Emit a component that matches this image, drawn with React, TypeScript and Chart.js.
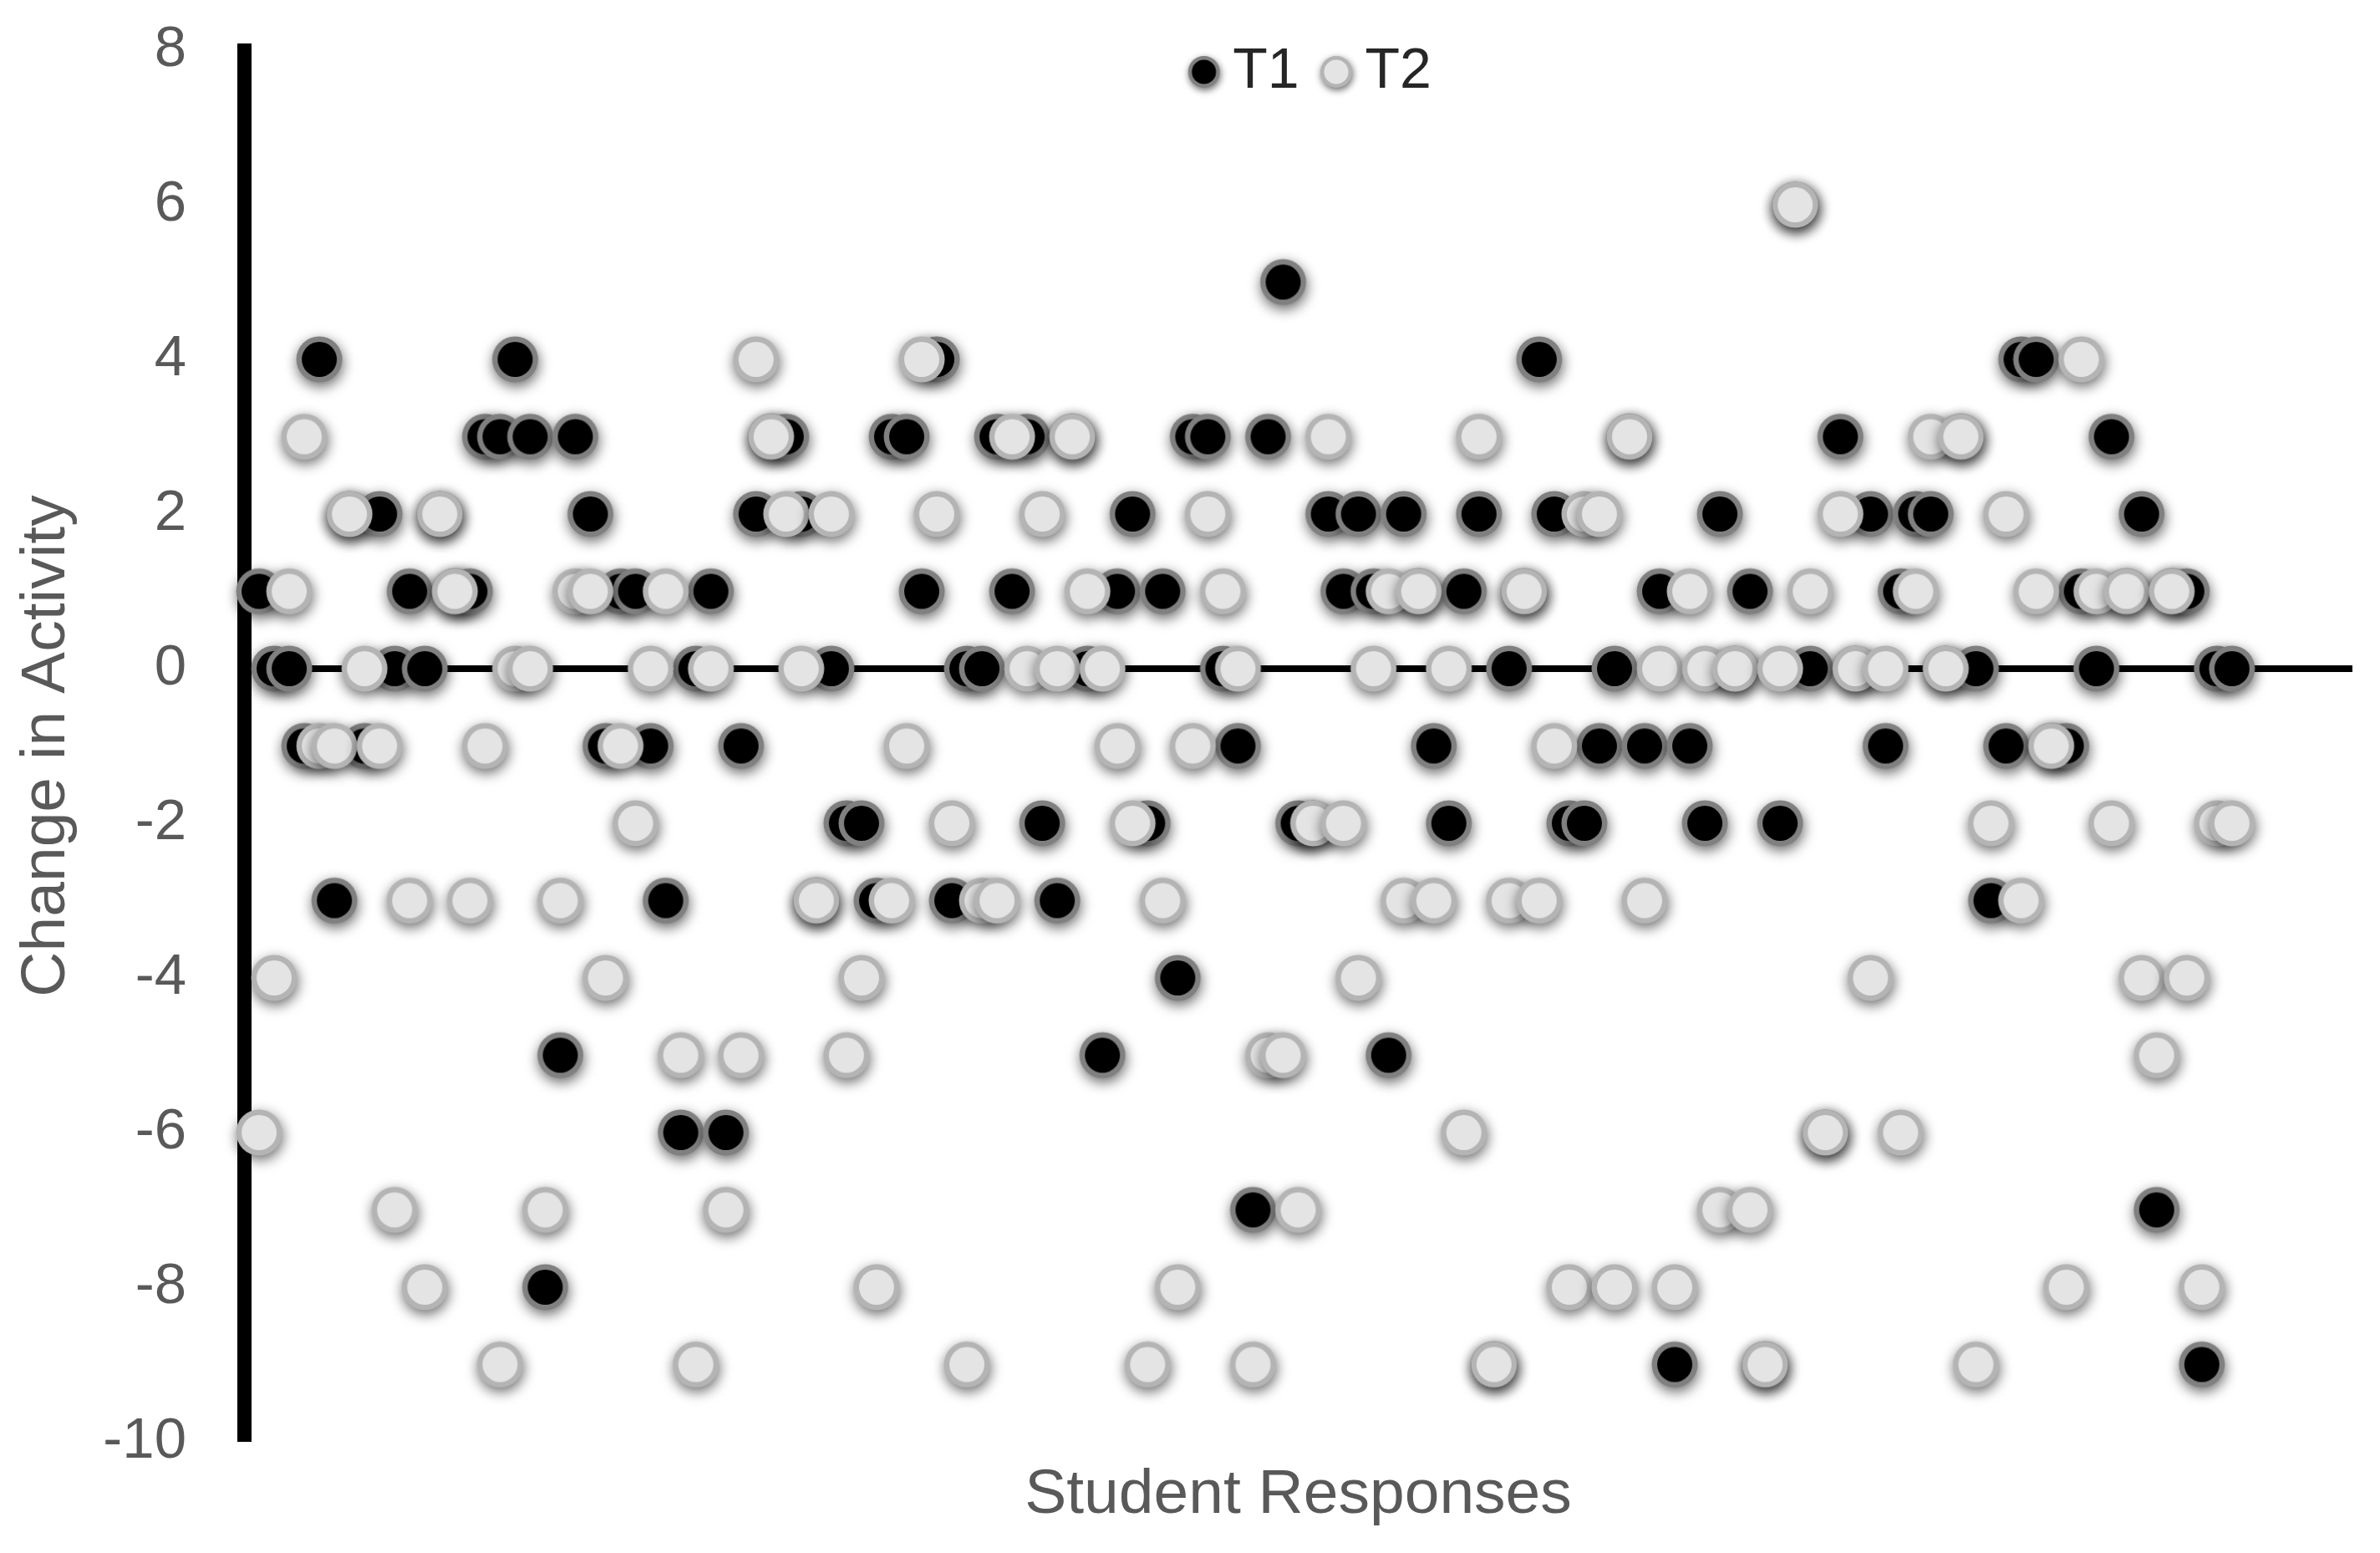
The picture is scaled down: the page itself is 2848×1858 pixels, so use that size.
import React, { useEffect, useRef } from 'react';
import { Chart, registerables } from 'chart.js';

Chart.register(...registerables);

// Change in activity per student response (students 1..132)
const T1: number[] = [
  1, 0, 0, -1, 4, -3, 2, -1, 2, 0,
  1, 0, 2, 1, 1, 3, 3, 4, 3, -8,
  -5, 3, 2, -1, 1, 1, -1, -3, -6, 0,
  1, -6, -1, 2, 3, 3, 2, -3, 0, -2,
  -2, -3, 3, 3, 1, 4, -3, 0, 0, 3,
  1, 3, -2, -3, 3, 0, -5, 1, 2, -2,
  1, -4, 3, 3, 0, -1, -7, 3, 5, -2,
  -2, 2, 1, 2, 1, -5, 2, 1, -1, -2,
  1, 2, -9, 0, 1, 4, 2, -2, -2, -1,
  0, 3, -1, 1, -9, -1, -2, 2, 0, 1,
  -9, -2, 6, 0, -6, 3, 0, 2, -1, 1,
  2, 2, 0, 3, 0, -3, -1, 4, 4, -1,
  -1, 1, 0, 3, 1, 2, -7, 1, 1, -9,
  0, 0,
];

const T2: number[] = [
  -6, -4, 1, 3, -1, -1, 2, 0, -1, -7,
  -3, -8, 2, 1, -3, -1, -9, 0, 0, -7,
  -3, 1, 1, -4, -1, -2, 0, 1, -5, -9,
  0, -7, -5, 4, 3, 2, 0, -3, 2, -5,
  -4, -8, -3, -1, 4, 2, -2, -9, -3, -3,
  3, 0, 2, 0, 3, 1, 0, -1, -2, -9,
  -3, -8, -1, 2, 1, 0, -9, -5, -5, -7,
  -2, 3, -2, -4, 0, 1, -3, 1, -3, 0,
  -6, 3, -9, -3, 1, -3, -1, -8, 2, 2,
  -8, 3, -3, 0, -8, 1, 0, -7, 0, -7,
  -9, 0, 6, 1, -6, 2, 0, -4, 0, -6,
  1, 3, 0, 3, -9, -2, 2, -3, 1, -1,
  -8, 4, 1, -2, 1, -4, -5, 1, -4, -8,
  -2, -2,
];

const seriesLabels = ['T1', 'T2'];
const yRange = { min: -10, max: 8, step: 2 };
const xRange = { min: 0, max: 140 };

const FONT = '"Liberation Sans", Arial, sans-serif';

function makeMarker(
  outerR: number,
  innerR: number,
  ring: string,
  fill: string,
  blur: number,
  offY: number,
  size: number
): HTMLCanvasElement {
  const c = document.createElement('canvas');
  c.width = size;
  c.height = size;
  const g = c.getContext('2d') as CanvasRenderingContext2D;
  const cx = size / 2;
  const cy = size / 2;
  g.save();
  g.shadowColor = 'rgba(0,0,0,0.6)';
  g.shadowBlur = blur;
  g.shadowOffsetX = 1;
  g.shadowOffsetY = offY;
  g.beginPath();
  g.arc(cx, cy, outerR, 0, Math.PI * 2);
  g.fillStyle = ring;
  g.fill();
  g.restore();
  g.beginPath();
  g.arc(cx, cy, innerR, 0, Math.PI * 2);
  g.fillStyle = fill;
  g.fill();
  return c;
}

export default function App() {
  const ref = useRef<HTMLCanvasElement | null>(null);

  useEffect(() => {
    if (!ref.current) return;
    const m1 = makeMarker(27.5, 21, '#808080', '#000000', 16, 5, 110);
    const m2 = makeMarker(27.5, 21, '#b4b4b4', '#e4e4e4', 16, 5, 110);
    const l1 = makeMarker(19, 14.5, '#808080', '#000000', 8, 3, 70);
    const l2 = makeMarker(19, 14.5, '#b4b4b4', '#e4e4e4', 8, 3, 70);
    const legendMarkers = [l1, l2];

    const students = T1.map((_, i) => i + 1);

    // The legend sits inside the top of the plot area, as in the original
    const legendPlace = {
      id: 'legendPlace',
      afterLayout(chart: any) {
        const lg = chart.legend;
        if (lg) {
          lg.left += 23;
          lg.right += 23;
          lg.top = 8;
          lg.bottom = 160;
          lg.height = 152;
        }
      },
    };

    const chart = new Chart(ref.current, {
      type: 'scatter',
      data: {
        datasets: [
          {
            label: seriesLabels[0],
            data: students.map((x, i) => ({ x, y: T1[i] })),
            pointStyle: m1 as any,
            pointRadius: 27,
            order: 1,
            clip: false as any,
          },
          {
            label: seriesLabels[1],
            data: students.map((x, i) => ({ x, y: T2[i] })),
            pointStyle: m2 as any,
            pointRadius: 27,
            order: 0,
            clip: false as any,
          },
        ],
      },
      options: {
        responsive: false,
        animation: false,
        events: [],
        layout: { padding: { left: 0, right: 33, top: 0, bottom: 0 } },
        scales: {
          x: {
            type: 'linear',
            min: xRange.min,
            max: xRange.max,
            position: 'bottom',
            afterFit: (s: any) => {
              s.height = 133;
              s.paddingLeft = 0;
              s.paddingRight = 0;
            },
            ticks: { display: false },
            grid: { display: false, drawTicks: false },
            border: { display: false },
            title: {
              display: true,
              text: 'Student Responses',
              color: '#595959',
              font: { family: FONT, size: 75 },
              padding: { top: 0, bottom: 24 },
            },
          },
          y: {
            type: 'linear',
            min: yRange.min,
            max: yRange.max,
            afterFit: (s: any) => {
              s.width = 292;
              s.paddingTop = 0;
              s.paddingBottom = 0;
            },
            ticks: {
              stepSize: yRange.step,
              color: '#595959',
              font: { family: FONT, size: 69 },
              padding: 69,
            },
            grid: {
              drawTicks: false,
              color: (ctx: any) => (ctx.tick && ctx.tick.value === 0 ? '#000000' : 'rgba(0,0,0,0)'),
              lineWidth: (ctx: any) => (ctx.tick && ctx.tick.value === 0 ? 8 : 0),
            },
            border: { display: true, color: '#000000', width: 17 },
            title: {
              display: true,
              text: 'Change in Activity',
              color: '#595959',
              font: { family: FONT, size: 75 },
              padding: { top: 11, bottom: 0 },
            },
          },
        },
        plugins: {
          tooltip: { enabled: false },
          legend: {
            display: true,
            position: 'top',
            fullSize: false,
            maxHeight: 60,
            align: 'center',
            labels: {
              usePointStyle: true,
              boxWidth: 1,
              padding: 44,
              color: '#262626',
              font: { family: FONT, size: 68 },
              generateLabels: (c: any) =>
                c.data.datasets.map((ds: any, i: number) => ({
                  text: ds.label,
                  pointStyle: legendMarkers[i],
                  fillStyle: 'rgba(0,0,0,0)',
                  strokeStyle: 'rgba(0,0,0,0)',
                  lineWidth: 0,
                  hidden: false,
                  datasetIndex: i,
                  fontColor: '#262626',
                })),
            },
          },
        },
      },
      plugins: [legendPlace],
    } as any);

    return () => {
      chart.destroy();
    };
  }, []);

  return (
    <div style={{ position: 'fixed', left: 0, top: 0, width: 2848, height: 1858, background: '#ffffff' }}>
      <canvas ref={ref} width={2848} height={1858} style={{ display: 'block', width: 2848, height: 1858 }} />
    </div>
  );
}
